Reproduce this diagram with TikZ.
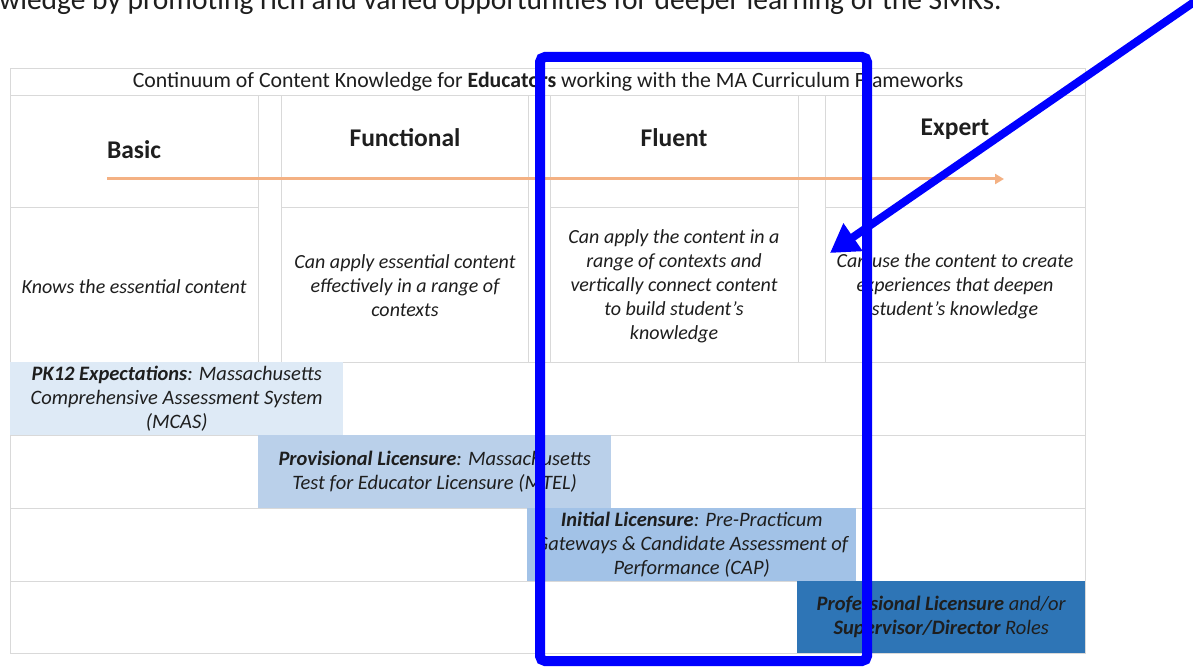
\documentclass[tikz,border=0pt]{standalone}
\usepackage{fontspec}
\setmainfont{Carlito}
\usetikzlibrary{arrows.meta,positioning}

\definecolor{gridgray}{HTML}{D9D9D9}
\definecolor{textdark}{HTML}{1E1E1E}
\definecolor{arroworange}{HTML}{F4B183}
\definecolor{pkblue}{HTML}{DEEAF6}
\definecolor{provblue}{HTML}{BAD0EA}
\definecolor{initblue}{HTML}{A2C2E7}
\definecolor{profblue}{HTML}{2E75B6}
\definecolor{markblue}{HTML}{0000FF}

\begin{document}
\begin{tikzpicture}[x=1pt, y=-1pt,
        cell/.style={draw=gridgray, line width=1.2pt, anchor=north west, inner sep=0pt},  % table cell
        bar/.style={anchor=north west, inner sep=0pt, minimum height=73pt},
        head/.style={font=\fontsize{25.5}{28}\selectfont\bfseries, text=textdark},
        desc/.style={font=\fontsize{20}{24}\selectfont\itshape, align=center, text=textdark},
        bartext/.style={font=\fontsize{20.5}{24}\selectfont\itshape, align=center, text=textdark},
    ]
        \useasboundingbox (0,0) rectangle (1193,671);
        \fill[white] (0,0) rectangle (1193,671);

        % cut-off sentence above the table
        \begin{scope}
            \clip (0,0) rectangle (1193,671);
            \node[anchor=base west, inner sep=0pt, font=\fontsize{29.5}{32}\selectfont, text=textdark] (intro) at (-1,10) {wledge by promoting rich and varied opportunities for deeper learning of the SMKs.};
        \end{scope}

        %Cells
        \node[cell, minimum width=1075pt, minimum height=27pt] (titleCell) at (10,68) {};
        \node[cell, minimum width=248pt, minimum height=112pt] (basicHead) at (10,95) {};
        \node[cell, minimum width=23pt, minimum height=267pt] (gapA) at (258,95) {};
        \node[cell, minimum width=247pt, minimum height=112pt] (funcHead) at (281,95) {};
        \node[cell, minimum width=22pt, minimum height=267pt] (gapB) at (528,95) {};
        \node[cell, minimum width=248pt, minimum height=112pt] (fluentHead) at (550,95) {};
        \node[cell, minimum width=27pt, minimum height=267pt] (gapC) at (798,95) {};
        \node[cell, minimum width=260pt, minimum height=112pt] (expertHead) at (825,95) {};
        \node[cell, minimum width=248pt, minimum height=155pt] (basicDesc) at (10,207) {};
        \node[cell, minimum width=247pt, minimum height=155pt] (funcDesc) at (281,207) {};
        \node[cell, minimum width=248pt, minimum height=155pt] (fluentDesc) at (550,207) {};
        \node[cell, minimum width=260pt, minimum height=155pt] (expertDesc) at (825,207) {};
        \node[cell, minimum width=1075pt, minimum height=73pt] (rowPK) at (10,362) {};
        \node[cell, minimum width=1075pt, minimum height=73pt] (rowProv) at (10,435) {};
        \node[cell, minimum width=1075pt, minimum height=73pt] (rowInit) at (10,508) {};
        \node[cell, minimum width=1075pt, minimum height=72pt] (rowProf) at (10,581) {};

        %Bars
        \node[bar, fill=pkblue, minimum width=333pt] (pk) at (10,362) {};
        \node[bar, fill=provblue, minimum width=353pt] (prov) at (258,435) {};
        \node[bar, fill=initblue, minimum width=329pt] (init) at (527,508) {};
        \node[bar, fill=profblue, minimum width=288pt, minimum height=72pt] (prof) at (797,581) {};

        %Texts
        \node[font=\fontsize{21.8}{24}\selectfont, text=textdark] (title) at (titleCell.center) {Continuum of Content Knowledge for \textbf{Educators} working with the MA Curriculum Frameworks};
        \node[head] (basic) at (134,150) {Basic};
        \node[head] (functional) at (405,138) {Functional};
        \node[head] (fluent) at (674,138) {Fluent};
        \node[head] (expert) at (955,129) {Expert};
        \node[desc] (knows) at (134,287) {Knows the essential content};
        \node[desc] (applyEss) at (405,286) {Can apply essential content\\effectively in a range of\\contexts};
        \node[desc] (applyRange) at (674,286) {Can apply the content in a\\range of contexts and\\vertically connect content\\to build student’s\\knowledge};
        \node[desc] (create) at (955,286) {Can use the content to create\\experiences that deepen\\student’s knowledge};
        \node[bartext] (pkText) at (pk.center) {\textbf{PK12 Expectations}: Massachusetts\\Comprehensive Assessment System\\(MCAS)};
        \node[bartext] (provText) at (prov.center) {\textbf{Provisional Licensure}: Massachusetts\\Test for Educator Licensure (MTEL)};
        \node[bartext] (initText) at (init.center) {\textbf{Initial Licensure}: Pre-Practicum\\Gateways \& Candidate Assessment of\\Performance (CAP)};
        \node[bartext] (profText) at (prof.center) {\textbf{Professional Licensure} and/or\\\textbf{Supervisor/Director} Roles};

        %Lines
        \coordinate (growStart) at (107,179);
        \coordinate (growEnd) at (1004,179);
        \draw[-{Triangle[length=9pt, width=10pt]}, arroworange, line width=3pt] (growStart) -- (growEnd);
        \draw[markblue, line width=10pt, rounded corners=5pt] (540,57) rectangle (867,661);
        \coordinate (pointFrom) at (1197,0);
        \coordinate (pointTo) at (830,253);
        \draw[-{Triangle[length=28pt, width=32pt]}, markblue, line width=8pt] (pointFrom) -- (pointTo);
    \end{tikzpicture}
\end{document}
